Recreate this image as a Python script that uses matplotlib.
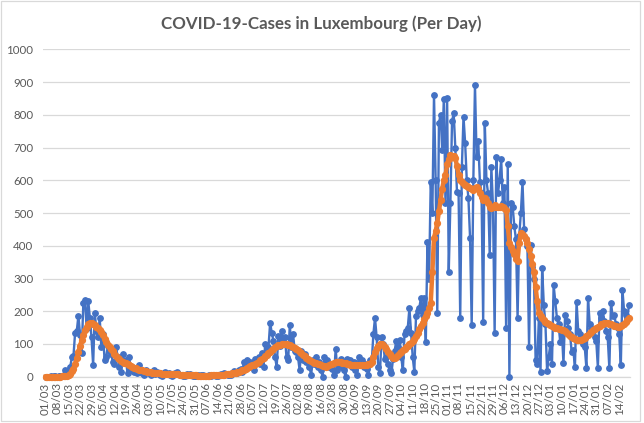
import matplotlib
matplotlib.use("Agg")
import matplotlib.pyplot as plt
from matplotlib.patches import Rectangle
import numpy as np

# Daily new cases, 01/03/2020 .. 20/02/2021 (one row per week, Sun..Sat)
daily_cases = [
    0, 0, 0, 1, 0, 1, 1,
    0, 2, 2, 3, 5, 19, 12,
    17, 30, 59, 64, 135, 139, 186,
    128, 72, 224, 234, 150, 232, 180,
    120, 36, 195, 140, 120, 180, 90,
    130, 50, 60, 95, 80, 70, 45,
    40, 90, 60, 30, 15, 70, 45,
    50, 10, 60, 20, 30, 15, 25,
    10, 35, 20, 10, 5, 20, 15,
    10, 5, 12, 20, 8, 15, 10,
    5, 3, 10, 15, 8, 12, 6,
    2, 5, 12, 15, 8, 6, 4,
    3, 2, 8, 5, 7, 4, 3,
    2, 1, 5, 3, 4, 6, 2,
    1, 2, 4, 3, 6, 5, 2,
    3, 4, 8, 6, 10, 7, 5,
    4, 6, 12, 18, 15, 10, 20,
    25, 15, 45, 40, 50, 30, 45,
    35, 20, 55, 50, 60, 40, 72,
    30, 100, 70, 90, 165, 134, 110,
    60, 30, 125, 95, 140, 110, 120,
    60, 50, 158, 90, 130, 80, 75,
    60, 20, 80, 50, 70, 45, 50,
    30, 5, 50, 40, 60, 30, 45,
    20, 0, 60, 40, 50, 30, 35,
    25, 5, 85, 20, 40, 55, 30,
    20, 0, 55, 40, 50, 30, 45,
    20, 5, 60, 40, 50, 30, 40,
    25, 5, 50, 45, 130, 180, 120,
    30, 10, 120, 100, 55, 60, 40,
    20, 10, 55, 80, 110, 90, 112,
    60, 20, 130, 140, 150, 210, 135,
    60, 15, 185, 200, 210, 240, 190,
    240, 107, 412, 300, 596, 500, 862,
    600, 195, 775, 800, 693, 850, 530,
    852, 321, 530, 780, 806, 700, 566,
    560, 180, 640, 795, 714, 600, 545,
    424, 158, 600, 892, 670, 720, 596,
    560, 168, 775, 600, 560, 372, 640,
    520, 134, 672, 560, 600, 665, 530,
    580, 148, 650, 0, 530, 520, 460,
    420, 180, 430, 500, 596, 450, 420,
    400, 92, 403, 336, 300, 51, 40,
    180, 15, 331, 220, 160, 18, 61,
    100, 40, 280, 230, 180, 160, 107,
    140, 41, 189, 170, 150, 130, 76,
    82, 30, 229, 140, 130, 120, 100,
    90, 26, 240, 160, 150, 140, 120,
    110, 28, 195, 180, 200, 170, 140,
    120, 26, 225, 185, 190, 160, 150,
    130, 36, 265, 200, 190, 180, 219,
]

# 7-day average, same days
avg_7day = [
    0, 0, 0, 0, 0, 0, 0,
    0, 0, 0, 1, 1, 2, 3,
    5, 9, 16, 25, 40, 57, 76,
    95, 112, 128, 142, 153, 161, 165,
    163, 160, 157, 153, 149, 144, 138,
    128, 116, 105, 98, 92, 85, 78,
    70, 64, 58, 53, 49, 46, 43,
    41, 38, 36, 33, 30, 28, 26,
    24, 22, 21, 19, 17, 16, 15,
    14, 13, 12, 12, 11, 11, 10,
    10, 9, 9, 9, 8, 8, 8,
    8, 7, 7, 7, 7, 6, 6,
    6, 5, 5, 5, 5, 4, 4,
    4, 4, 3, 3, 3, 3, 3,
    3, 3, 3, 4, 4, 4, 4,
    4, 5, 5, 6, 6, 7, 7,
    8, 9, 10, 11, 12, 13, 15,
    17, 19, 22, 25, 28, 31, 33,
    35, 37, 40, 43, 46, 50, 54,
    57, 62, 67, 72, 77, 82, 86,
    90, 93, 96, 98, 100, 101, 100,
    99, 98, 96, 93, 90, 88, 85,
    81, 77, 72, 67, 62, 57, 53,
    50, 47, 45, 43, 41, 40, 38,
    36, 34, 32, 31, 33, 36, 38,
    40, 42, 44, 45, 45, 44, 43,
    42, 41, 40, 38, 37, 36, 36,
    35, 35, 35, 35, 36, 36, 36,
    37, 38, 40, 45, 60, 75, 88,
    95, 100, 100, 98, 92, 85, 76,
    68, 62, 58, 58, 60, 65, 72,
    77, 82, 86, 90, 95, 100, 102,
    108, 115, 124, 134, 145, 155, 165,
    175, 185, 195, 210, 225, 320, 425,
    445, 470, 505, 540, 575, 600, 615,
    650, 665, 677, 676, 673, 668, 645,
    615, 600, 595, 590, 585, 583, 580,
    578, 575, 572, 578, 580, 575, 560,
    548, 540, 545, 540, 530, 520, 515,
    520, 525, 520, 518, 520, 522, 520,
    515, 510, 460, 410, 395, 385, 375,
    360, 355, 410, 440, 437, 430, 420,
    410, 390, 370, 345, 320, 275, 230,
    195, 185, 178, 172, 168, 165, 160,
    158, 155, 152, 150, 148, 146, 145,
    144, 143, 140, 135, 130, 123, 120,
    118, 115, 113, 112, 111, 112, 114,
    118, 123, 128, 133, 138, 142, 146,
    148, 152, 156, 160, 162, 164, 164,
    164, 162, 160, 158, 156, 154, 153,
    153, 155, 158, 162, 166, 172, 178,
]

tick_labels = [
    "01/03", "08/03", "15/03", "22/03", "29/03", "05/04", "12/04", "19/04",
    "26/04", "03/05", "10/05", "17/05", "24/05", "31/05", "07/06", "14/06",
    "21/06", "28/06", "05/07", "12/07", "19/07", "26/07", "02/08", "09/08",
    "16/08", "23/08", "30/08", "06/09", "13/09", "20/09", "27/09", "04/10",
    "11/10", "18/10", "25/10", "01/11", "08/11", "15/11", "22/11", "29/11",
    "06/12", "13/12", "20/12", "27/12", "03/01", "10/01", "17/01", "24/01",
    "31/01", "07/02", "14/02",
]
tick_step_days = 7
y_ticks = [0, 100, 200, 300, 400, 500, 600, 700, 800, 900, 1000]

TEXT = "#595959"
GRID = "#D9D9D9"
plt.rcParams["font.family"] = ["Lato", "DejaVu Sans"]

W, H = 644, 423
fig = plt.figure(figsize=(W / 100, H / 100), dpi=100)
ax = fig.add_axes([43 / W, (H - 376.7) / H, (630 - 43) / W, (376.7 - 49.5) / H])

x = np.arange(len(daily_cases))
ax.plot(x, daily_cases, color="#4472C4", lw=1.7, marker="o", ms=3.9,
        zorder=3, clip_on=False)
ax.plot(x, avg_7day, color="#ED7D31", lw=3.2, marker="o", ms=4.2,
        zorder=4, clip_on=False)

ax.set_ylim(0, 1000)
ax.set_xlim(-1.6, 356.6)
ax.set_yticks(y_ticks)
ax.set_yticklabels([str(v) for v in y_ticks])
ax.set_xticks(np.arange(len(tick_labels)) * tick_step_days)
ax.set_xticklabels(tick_labels, rotation=90)
ax.yaxis.grid(True, color=GRID, lw=0.9)
ax.set_axisbelow(True)
for s in ["top", "right", "left"]:
    ax.spines[s].set_visible(False)
ax.spines["bottom"].set_color(GRID)
ax.spines["bottom"].set_linewidth(0.9)
ax.tick_params(axis="both", length=0, colors=TEXT, labelsize=8.3)
ax.tick_params(axis="y", pad=7)
ax.tick_params(axis="x", pad=4)

fig.text(321.5 / W, 1 - 24 / H, "COVID-19-Cases in Luxembourg (Per Day)",
         ha="center", va="center", fontsize=12.2, fontweight="bold", color=TEXT)

fig.patches.append(Rectangle((1 / W, 2 / H), 639 / W, 420 / H, fill=False,
                             edgecolor=GRID, lw=0.9, transform=fig.transFigure))

fig.savefig("out.png", dpi=100, facecolor="white")
